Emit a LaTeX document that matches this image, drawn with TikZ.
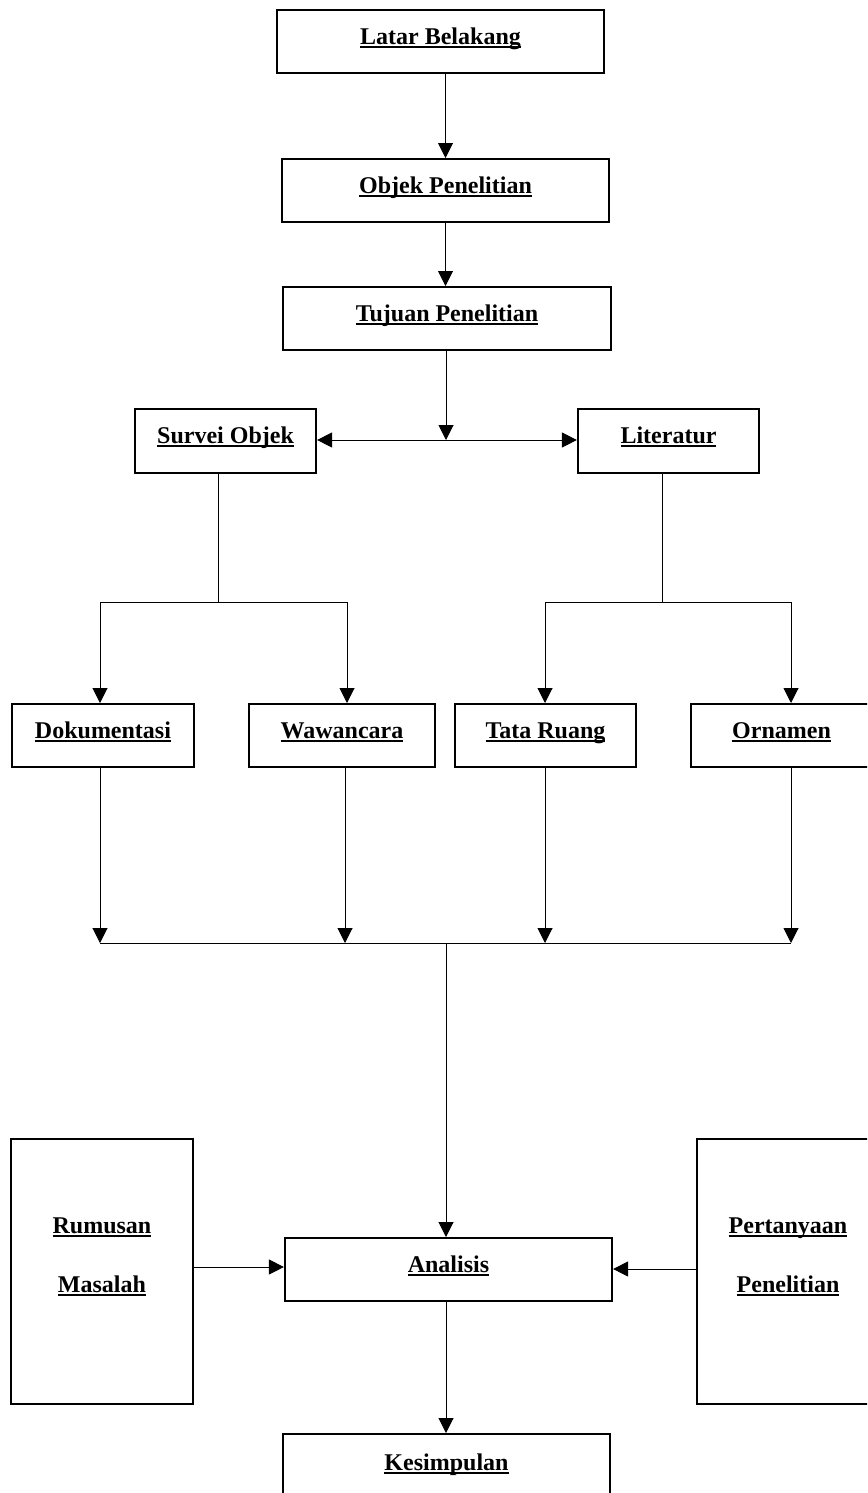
\documentclass[tikz,border=0pt]{standalone}
\usepackage{fontspec}
\setmainfont{Liberation Serif}
\usetikzlibrary{arrows.meta}
\newcommand\myul[1]{\setbox0=\hbox{#1}\rlap{\rule[-4.3pt]{\wd0}{2pt}}\box0}
\begin{document}
\begin{tikzpicture}[x=1pt,y=-1pt,
  lbl/.style={font=\bfseries\fontsize{24}{28}\selectfont},
  box/.style={lbl, draw, line width=2.2pt, inner sep=0pt, text height=34pt, text depth=29pt, minimum width=#1, anchor=north},
  box/.default=181pt,
  tallbox/.style={lbl, draw, line width=2.2pt, inner sep=0pt, minimum width=182pt, text height=94pt, text depth=171pt, anchor=north},
  conn/.style={line width=1pt},
  arr/.style={conn, -{Triangle[length=15pt,width=15pt]}}]
\useasboundingbox (0,0) rectangle (867,1493);
\fill[white] (0,0) rectangle (867,1493);
\clip (0,0) rectangle (867,1493);
% main column
\node[box=327pt] (latar) at (440.5,9) {\myul{Latar Belakang}};
\node[box=327pt] (objek) at (445.5,158) {\myul{Objek Penelitian}};
\node[box=328pt] (tujuan) at (447,286) {\myul{Tujuan Penelitian}};
% second level
\node[box=181pt, text depth=30pt] (survei) at (225.5,408) {\myul{Survei Objek}};
\node[box=181pt, text depth=30pt] (lit) at (668.5,408) {\myul{Literatur}};
% third level
\node[box=182pt] (dok) at (103,703) {\myul{Dokumentasi}};
\node[box=186pt] (waw) at (342,703) {\myul{Wawancara}};
\node[box=181pt] (tata) at (545.5,703) {\myul{Tata Ruang}};
\node[box=181pt] (orn) at (781.5,703) {\myul{Ornamen}};
% analysis row
\node[tallbox] (rumusan) at (102,1138) {\begin{tabular}[t]{@{}c@{}}\myul{Rumusan}\\[31pt]\myul{Masalah}\end{tabular}};
\node[tallbox] (tanya) at (788,1138) {\begin{tabular}[t]{@{}c@{}}\myul{Pertanyaan}\\[31pt]\myul{Penelitian}\end{tabular}};
\node[box=327pt] (analisis) at (448.5,1237) {\myul{Analisis}};
\node[box=327pt, text height=36pt] (kes) at (446.5,1433) {\myul{Kesimpulan}};
% coordinates
\coordinate (col) at (445.5,0);
\coordinate (split) at (446,440);
\coordinate (sj) at (218,602);
\coordinate (dL) at (100,602);
\coordinate (dR) at (347,602);
\coordinate (lj) at (662,602);
\coordinate (tL) at (545,602);
\coordinate (tR) at (791,602);
\coordinate (m1) at (100,943);
\coordinate (m2) at (345,943);
\coordinate (m3) at (545,943);
\coordinate (m4) at (791,943);
\coordinate (mc) at (446,943);
% connectors
\draw[arr] (latar.south -| col) -- (objek.north -| col);
\draw[arr] (objek.south -| col) -- (tujuan.north -| col);
\draw[arr] (tujuan.south -| split) -- (split);
\draw[arr] (split) -- (survei.east |- split);
\draw[arr] (split) -- (lit.west |- split);
\draw[conn] (survei.south -| sj) -- (sj);
\draw[conn] (dL) -- (dR);
\draw[arr] (dL) -- (dok.north -| dL);
\draw[arr] (dR) -- (waw.north -| dR);
\draw[conn] (lit.south -| lj) -- (lj);
\draw[conn] (tL) -- (tR);
\draw[arr] (tL) -- (tata.north -| tL);
\draw[arr] (tR) -- (orn.north -| tR);
\draw[arr] (dok.south -| m1) -- (m1);
\draw[arr] (waw.south -| m2) -- (m2);
\draw[arr] (tata.south -| m3) -- (m3);
\draw[arr] (orn.south -| m4) -- (m4);
\draw[conn] (m1) -- (m4);
\draw[arr] (mc) -- (analisis.north -| mc);
\draw[arr] (rumusan.east |- 0,1267) -- (analisis.west |- 0,1267);
\draw[arr] (tanya.west |- 0,1269) -- (analisis.east |- 0,1269);
\draw[arr] (analisis.south -| mc) -- (kes.north -| mc);
\end{tikzpicture}
\end{document}
